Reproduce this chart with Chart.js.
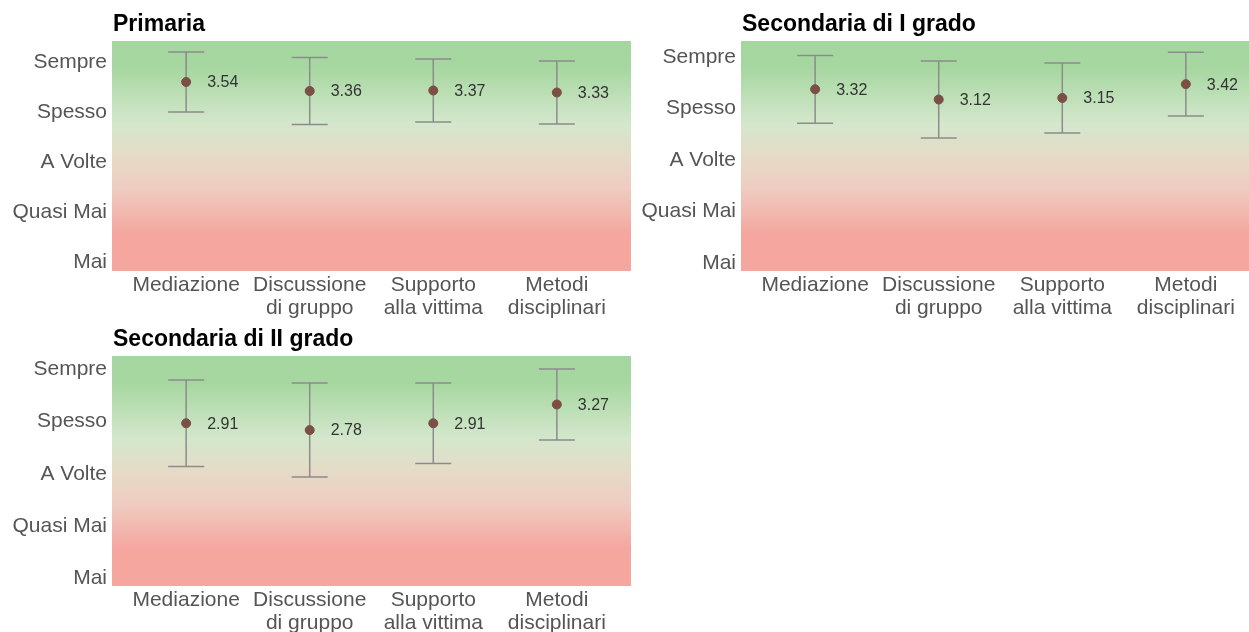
<!DOCTYPE html>
<html>
<head>
<meta charset="utf-8">
<script src="https://cdn.jsdelivr.net/npm/chart.js@4"></script>
<style>
  html, body { margin: 0; padding: 0; background: #fff; overflow: hidden; }
  body { width: 1249px; height: 632px; position: relative; }
  canvas { position: absolute; }
</style>
</head>
<body>
<canvas id="primariaChart" width="640" height="330" style="left:0;top:0"></canvas>
<canvas id="sec1Chart" width="640" height="330" style="left:629px;top:0"></canvas>
<canvas id="sec2Chart" width="640" height="330" style="left:0;top:315px"></canvas>
<script>
const categories = [['Mediazione'], ['Discussione', 'di gruppo'], ['Supporto', 'alla vittima'], ['Metodi', 'disciplinari']];
const freqLabels = ['Mai', 'Quasi Mai', 'A Volte', 'Spesso', 'Sempre'];

const primariaMean = [3.54, 3.36, 3.37, 3.33];
const primariaSd = [0.60, 0.67, 0.63, 0.63];
const sec1Mean = [3.32, 3.12, 3.15, 3.42];
const sec1Sd = [0.66, 0.75, 0.68, 0.62];
const sec2Mean = [2.91, 2.78, 2.91, 3.27];
const sec2Sd = [0.83, 0.90, 0.77, 0.68];

const FONT = "'Liberation Sans', Arial, sans-serif";

// sfondo, barre d'errore, etichette dei valori e titolo
const panelPlugin = {
  id: 'panel',
  beforeDraw(chart) {
    const a = chart.chartArea;
    const ctx = chart.ctx;
    const g = ctx.createLinearGradient(0, a.top, 0, a.bottom);
    g.addColorStop(0, '#a6d6a0');
    g.addColorStop(0.12, '#a7d7a1');
    g.addColorStop(0.36, '#d4e7cc');
    g.addColorStop(0.49, '#e4dcc7');
    g.addColorStop(0.64, '#efccc1');
    g.addColorStop(0.84, '#f4a69f');
    g.addColorStop(1, '#f4a69f');
    ctx.save();
    ctx.fillStyle = g;
    ctx.fillRect(a.left, a.top, a.right - a.left, a.bottom - a.top);
    ctx.restore();
  },
  beforeDatasetsDraw(chart) {
    const ds = chart.data.datasets[0];
    const xs = chart.scales.x, ys = chart.scales.y;
    const ctx = chart.ctx;
    ctx.save();
    ctx.strokeStyle = '#8c8c8c';
    ctx.lineWidth = 1.5;
    ds.data.forEach((p, i) => {
      const x = xs.getPixelForValue(p.x);
      const top = ys.getPixelForValue(p.y + ds.sd[i]);
      const bot = ys.getPixelForValue(p.y - ds.sd[i]);
      ctx.beginPath();
      ctx.moveTo(x, top); ctx.lineTo(x, bot);
      ctx.moveTo(x - 18, top); ctx.lineTo(x + 18, top);
      ctx.moveTo(x - 18, bot); ctx.lineTo(x + 18, bot);
      ctx.stroke();
    });
    ctx.restore();
  },
  afterDatasetsDraw(chart) {
    const ds = chart.data.datasets[0];
    const xs = chart.scales.x, ys = chart.scales.y;
    const ctx = chart.ctx;
    ctx.save();
    ctx.fillStyle = '#333';
    ctx.font = '16px ' + FONT;
    ctx.textAlign = 'left';
    ctx.textBaseline = 'middle';
    ds.data.forEach(p => {
      ctx.fillText(p.y.toFixed(2), xs.getPixelForValue(p.x) + 21, ys.getPixelForValue(p.y) + 1);
    });
    ctx.restore();
  },
  afterDraw(chart) {
    const ctx = chart.ctx;
    ctx.save();
    ctx.fillStyle = '#000';
    ctx.font = 'bold 23px ' + FONT;
    ctx.textAlign = 'left';
    ctx.textBaseline = 'alphabetic';
    ctx.fillText(chart.options.plugins.panel.title, chart.chartArea.left + 1, chart.chartArea.top - 10);
    ctx.restore();
  }
};

function createPanel(id, title, means, sds, yMin, yMax) {
  return new Chart(document.getElementById(id).getContext('2d'), {
    type: 'scatter',
    data: {
      datasets: [{
        data: means.map((m, i) => ({ x: i, y: m })),
        sd: sds,
        backgroundColor: '#7b4f44',
        borderColor: '#7b4f44',
        pointRadius: 4.5,
        pointHoverRadius: 4.5
      }]
    },
    options: {
      responsive: false,
      animation: false,
      events: [],
      layout: { padding: { top: 41, left: 0, right: 9, bottom: 0 } },
      scales: {
        x: {
          type: 'linear',
          min: -0.6,
          max: 3.6,
          grid: { display: false, drawTicks: false },
          border: { display: false },
          afterBuildTicks: axis => { axis.ticks = categories.map((c, i) => ({ value: i })); },
          afterFit: axis => { axis.height = 59; },
          ticks: {
            autoSkip: false,
            maxRotation: 0,
            padding: 3,
            color: '#555',
            font: { family: FONT, size: 21, lineHeight: 1.1 },
            callback: v => categories[v]
          }
        },
        y: {
          min: yMin,
          max: yMax,
          grid: { display: false, drawTicks: false },
          border: { display: false },
          afterBuildTicks: axis => { axis.ticks = freqLabels.map((l, i) => ({ value: i })); },
          afterFit: axis => { axis.width = 112; },
          ticks: {
            padding: 5,
            labelOffset: 3,
            color: '#555',
            font: { family: FONT, size: 21 },
            callback: v => freqLabels[v]
          }
        }
      },
      plugins: {
        legend: { display: false },
        tooltip: { enabled: false },
        panel: { title: title }
      }
    },
    plugins: [panelPlugin]
  });
}

createPanel('primariaChart', 'Primaria', primariaMean, primariaSd, -0.24, 4.36);
createPanel('sec1Chart', 'Secondaria di I grado', sec1Mean, sec1Sd, -0.22, 4.26);
createPanel('sec2Chart', 'Secondaria di II grado', sec2Mean, sec2Sd, -0.21, 4.20);
</script>
</body>
</html>
